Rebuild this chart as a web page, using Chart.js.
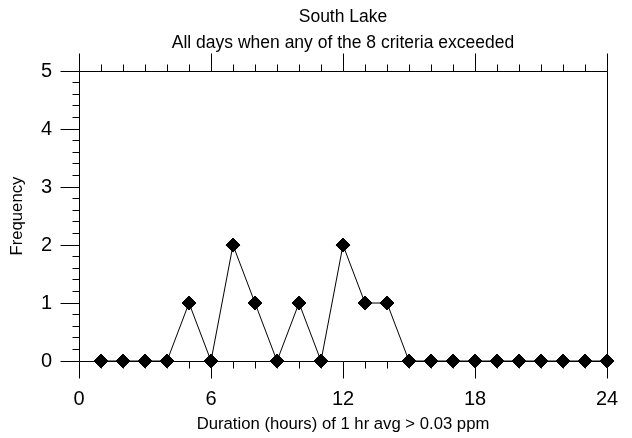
<!DOCTYPE html>
<html>
<head>
<meta charset="utf-8">
<script src="https://cdn.jsdelivr.net/npm/chart.js@4.4.1/dist/chart.umd.min.js"></script>
<style>
  html, body { margin: 0; padding: 0; background: #fff; }
  #wrap { width: 632px; height: 438px; }
</style>
</head>
<body>
<div id="wrap"><canvas id="freqChart" width="632" height="438"></canvas></div>
<script>
// hours of exceedance and how many days had that duration
var hours = [1, 2, 3, 4, 5, 6, 7, 8, 9, 10, 11, 12, 13, 14, 15, 16, 17, 18, 19, 20, 21, 22, 23, 24];
var frequency = [0, 0, 0, 0, 1, 0, 2, 1, 0, 1, 0, 2, 1, 1, 0, 0, 0, 0, 0, 0, 0, 0, 0, 0];
var xTicks = [0, 6, 12, 18, 24];
var yTicks = [0, 1, 2, 3, 4, 5];

var FONT = "'Liberation Sans', Arial, Helvetica, sans-serif";

// axis frame with major / minor tick marks (old plotting package style)
var frameTicks = {
    id: 'frameTicks',
    beforeDatasetsDraw: function (chart) {
        var c = chart.ctx, a = chart.chartArea;
        var xs = chart.scales.x, ys = chart.scales.y;
        var px = function (v) { return Math.floor(xs.getPixelForValue(v)) + 0.5; };
        var py = function (v) { return Math.floor(ys.getPixelForValue(v)) + 0.5; };
        var L = Math.floor(a.left) + 0.5, R = Math.floor(a.right) + 0.5;
        var T = Math.floor(a.top) + 0.5, B = Math.floor(a.bottom) + 0.5;
        c.save();
        c.strokeStyle = '#000';
        c.lineWidth = 1;
        c.beginPath();
        c.moveTo(L, T); c.lineTo(R, T);
        c.moveTo(L, B); c.lineTo(R, B);
        c.moveTo(L, T); c.lineTo(L, B);
        c.moveTo(R, T); c.lineTo(R, B);
        // x: major every 6, minor every hour, up on top and down on bottom
        for (var h = 0; h <= 24; h++) {
            var major = xTicks.indexOf(h) >= 0;
            var x = px(h);
            c.moveTo(x, T); c.lineTo(x, T - (major ? 18 : 7));
            c.moveTo(x, B); c.lineTo(x, B + (major ? 17 : 7));
        }
        // y: major every 1, minor every 0.2, outward on the left
        for (var k = 0; k <= 25; k++) {
            var y = py(k / 5);
            c.moveTo(L, y); c.lineTo(L - (k % 5 === 0 ? 19 : 7), y);
        }
        c.stroke();
        c.restore();
    }
};

var ctx = document.getElementById('freqChart').getContext('2d');
var freqChart = new Chart(ctx, {
    type: 'line',
    data: {
        datasets: [{
            label: 'Frequency',
            data: hours.map(function (h, i) { return { x: h, y: frequency[i] }; }),
            borderColor: '#000',
            borderWidth: 1,
            backgroundColor: '#000',
            pointStyle: 'rectRot',
            pointRadius: 7,
            pointBorderWidth: 1,
            pointBackgroundColor: '#000',
            pointBorderColor: '#000',
            tension: 0,
            clip: false
        }]
    },
    options: {
        responsive: false,
        animation: false,
        layout: {
            padding: { top: 0, right: 25, bottom: 0, left: 0 }
        },
        plugins: {
            legend: { display: false },
            tooltip: { enabled: false },
            title: {
                display: true,
                fullSize: false,
                text: ['South Lake', 'All days when any of the 8 criteria exceeded'],
                color: '#000',
                font: { family: FONT, size: 17.5, weight: 'normal', lineHeight: 1.49 },
                padding: { top: 4, bottom: 15 }
            }
        },
        scales: {
            x: {
                type: 'linear',
                min: 0,
                max: 24,
                afterFit: function (s) { s.height = 77; s.paddingLeft = 0; s.paddingRight = 0; },
                afterBuildTicks: function (s) { s.ticks = xTicks.map(function (v) { return { value: v }; }); },
                grid: { display: false, drawTicks: false },
                border: { display: false },
                ticks: {
                    color: '#000',
                    padding: 26,
                    maxRotation: 0,
                    font: { family: FONT, size: 20 }
                },
                title: {
                    display: true,
                    text: 'Duration (hours) of 1 hr avg > 0.03 ppm',
                    color: '#000',
                    font: { family: FONT, size: 16.7 },
                    padding: { top: 0, bottom: 4 }
                }
            },
            y: {
                min: 0,
                max: 5,
                afterFit: function (s) { s.width = 79; s.paddingTop = 0; s.paddingBottom = 0; },
                afterBuildTicks: function (s) { s.ticks = yTicks.map(function (v) { return { value: v }; }); },
                grid: { display: false, drawTicks: false },
                border: { display: false },
                ticks: {
                    color: '#000',
                    padding: 27,
                    font: { family: FONT, size: 20 }
                },
                title: {
                    display: true,
                    text: 'Frequency',
                    color: '#000',
                    font: { family: FONT, size: 16.7 },
                    padding: { top: 7, bottom: 0 }
                }
            }
        }
    },
    plugins: [frameTicks]
});
</script>
</body>
</html>
